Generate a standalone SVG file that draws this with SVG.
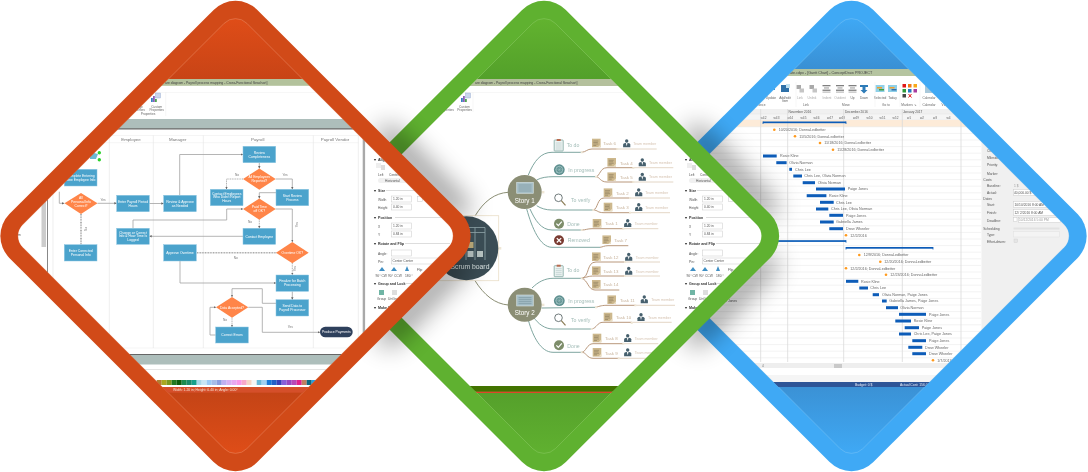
<svg xmlns="http://www.w3.org/2000/svg" width="1088" height="472" viewBox="0 0 1088 472">
<style>
text{font-family:"Liberation Sans",Arial,sans-serif}
.ft{font-size:3.4px;fill:#fff;text-anchor:middle}
.fl{font-size:3.2px;fill:#777;text-anchor:middle}
.fh{font-size:4.4px;fill:#777;text-anchor:middle}
.b{fill:#4BA3CC;stroke:#8CC6E2;stroke-width:.5}
.d{fill:#FF8548}
.c{fill:none;stroke:#A2A2A2;stroke-width:.8;marker-end:url(#ar)}
.cd{fill:none;stroke:#A2A2A2;stroke-width:.9;stroke-dasharray:1 .7;marker-end:url(#ar)}
.pt{font-size:3.3px;fill:#555}
.ph{font-size:3.6px;fill:#333;font-weight:bold}
.pb{fill:#fff;stroke:#C9C9C9;stroke-width:.5}
.br{fill:none;stroke:#7FA6A0;stroke-width:1}
.tk{fill:none;stroke:#B9987C;stroke-width:1}
.tl{fill:none;stroke:#DCCBB8;stroke-width:.8}
.lb{font-size:5.2px;fill:#A3BDB8}
.tt{font-size:4.4px;fill:#C7B29A}
.tm{font-size:3.6px;fill:#D6C4B2}
.nd{fill:#EFE7D6}
.g{fill:#0A5CB8}
.gd{fill:#FF9A1E}
.gt{font-size:3.7px;fill:#666}
.rl{stroke:#E6E6E6;stroke-width:.5}
.vl{stroke:#D9D9D9;stroke-width:.8}
.rb{font-size:3.2px;fill:#666;text-anchor:middle}
</style>
<defs>
<path id="o" d="M-226.1-21.9L-21.9-226.1A31 31 0 0 1 21.9-226.1L226.1-21.9A31 31 0 0 1 226.1 21.9L21.9 226.1A31 31 0 0 1-21.9 226.1L-226.1 21.9A31 31 0 0 1-226.1-21.9Z"/>
<path id="i" d="M-212.7-11.3L-11.3-212.7A16 16 0 0 1 11.3-212.7L212.7-11.3A16 16 0 0 1 212.7 11.3L11.3 212.7A16 16 0 0 1-11.3 212.7L-212.7 11.3A16 16 0 0 1-212.7-11.3Z"/>
<clipPath id="cO"><use href="#i" transform="translate(235.5 236)"/></clipPath>
<clipPath id="cG"><use href="#i" transform="translate(544 236)"/></clipPath>
<clipPath id="cB"><use href="#i" transform="translate(851.5 236)"/></clipPath>
<filter id="soft" x="-5%" y="-5%" width="110%" height="110%"><feGaussianBlur stdDeviation=".35"/></filter>
<filter id="sh" filterUnits="userSpaceOnUse" x="0" y="0" width="1088" height="472"><feGaussianBlur stdDeviation="13"/></filter>
<linearGradient id="gO" gradientUnits="userSpaceOnUse" x1="0" y1="-218" x2="0" y2="218"><stop offset="0" stop-color="#DF4D18"/><stop offset=".14" stop-color="#C84416"/><stop offset=".86" stop-color="#C44416"/><stop offset="1" stop-color="#DF4D18"/></linearGradient>
<linearGradient id="gG" gradientUnits="userSpaceOnUse" x1="0" y1="-218" x2="0" y2="218"><stop offset="0" stop-color="#62B32F"/><stop offset=".14" stop-color="#53A02A"/><stop offset=".86" stop-color="#55A02B"/><stop offset="1" stop-color="#60B130"/></linearGradient>
<linearGradient id="gB" gradientUnits="userSpaceOnUse" x1="0" y1="-218" x2="0" y2="218"><stop offset="0" stop-color="#3FA9F5"/><stop offset=".12" stop-color="#398FD3"/><stop offset=".85" stop-color="#3B92D6"/><stop offset="1" stop-color="#3FA9F5"/></linearGradient>
<marker id="ar" markerUnits="userSpaceOnUse" markerWidth="3" markerHeight="3" refX="2.4" refY="1.2" orient="auto"><path d="M0 0L2.4 1.2L0 2.4Z" fill="#666"/></marker>
<g id="ribbonIco"><rect x="-2.5" y="-4" width="5" height="5" fill="#C9D6EC" stroke="#8FA5CC" stroke-width=".4" transform="translate(3 -1)"/><rect x="-4" y="0" width="1.8" height="4" fill="#3A7FC4"/><rect x="-2" y="-2" width="1.8" height="6" fill="#8C5FB8"/><rect x="0" y="1" width="1.8" height="3" fill="#4FA64F"/></g>
<g id="props">
<rect x="376" y="163" width="5" height="5" fill="#eee"/>
<text class="ph" x="374" y="160.5">▾</text><text class="ph" x="378" y="160.5">Align</text><line x1="390" y1="159.5" x2="450" y2="159.5" stroke="#ddd"/>
<rect x="381" y="165" width="4" height="5" fill="#ddd"/>
<text class="pt" x="378" y="175.5">Left</text><text class="pt" x="389" y="175.5">Center</text>
<rect x="378" y="178" width="30" height="5" rx="2.5" fill="#F0F0F0"/><text class="pt" x="385" y="181.5" fill="#999">Horizontal</text>
<text class="ph" x="374" y="191.5">▾</text><text class="ph" x="378" y="191.5">Size</text><line x1="386" y1="190.5" x2="450" y2="190.5" stroke="#ddd"/>
<text class="pt" x="378" y="200.5">Width</text><rect class="pb" x="391.5" y="196" width="20" height="6"/><text class="pt" x="393" y="200.3">1.20 in</text>
<text class="pt" x="378" y="208.5">Height</text><rect class="pb" x="391.5" y="204" width="20" height="6"/><text class="pt" x="393" y="208.3">0.40 in</text>
<rect class="pb" x="417.5" y="196.5" width="5" height="5"/>
<text class="ph" x="374" y="218.5">▾</text><text class="ph" x="378" y="218.5">Position</text><line x1="395" y1="217.5" x2="450" y2="217.5" stroke="#ddd"/>
<text class="pt" x="378" y="227.5">X</text><rect class="pb" x="391.5" y="223" width="20" height="6"/><text class="pt" x="393" y="227.3">1.20 in</text>
<text class="pt" x="378" y="235.5">Y</text><rect class="pb" x="391.5" y="231" width="20" height="6"/><text class="pt" x="393" y="235.3">0.84 in</text>
<text class="ph" x="374" y="244.5">▾</text><text class="ph" x="378" y="244.5">Rotate and Flip</text><line x1="405" y1="243.5" x2="450" y2="243.5" stroke="#ddd"/>
<text class="pt" x="378" y="254.5">Angle:</text><rect class="pb" x="391.5" y="250" width="20" height="6"/>
<text class="pt" x="378" y="262.5">Pin:</text><rect class="pb" x="391.5" y="258" width="50" height="6"/><text class="pt" x="392.5" y="262.3">Center Center</text>
<path d="M379 271l3-4 3 4z" fill="#3F8FC4"/><path d="M391 271l3-4 3 4z" fill="#3F8FC4"/><path d="M405 271l2-5 2 5z" fill="#3F8FC4"/>
<text class="pt" x="375.5" y="276.5">90° CW</text><text class="pt" x="388" y="276.5">90° CCW</text><text class="pt" x="405" y="276.5">180 °</text><text class="pt" x="417" y="270.5">Flip</text>
<text class="ph" x="374" y="284.5">▾</text><text class="ph" x="378" y="284.5">Group and Lock</text><line x1="405" y1="283.5" x2="450" y2="283.5" stroke="#ddd"/>
<rect x="379" y="290" width="5" height="5" fill="#6FB5A5"/><rect x="392" y="290" width="5" height="5" fill="#ddd"/>
<text class="pt" x="377" y="299.5">Group</text><text class="pt" x="388" y="299.5">UnGroup</text>
<text class="ph" x="374" y="308.5">▾</text><text class="ph" x="378" y="308.5">Make S</text>
</g>
<g id="tk"><rect x="-4.3" y="-4.3" width="8.6" height="8.6" fill="#CDB88D"/><path d="M-3 -2H2M-3 -.5H1.5M-3 1H2M-3 2.5H0" stroke="#7B6C4E" stroke-width=".5"/><path d="M4.3 1.5L1.5 4.3H4.3Z" fill="#EADFC5"/></g>
<g id="pr"><circle cy="-2.3" r="1.7" fill="#47616E"/><path d="M-3.6 4V1.2Q-3.6-.3-1.3-.3H1.3Q3.6-.3 3.6 1.2V4Z" fill="#47616E"/><path d="M-.8-.3H.8L0 3Z" fill="#fff"/></g>
<g id="clip"><rect x="-4.5" y="-5" width="9" height="11" rx=".6" fill="#EEF4F3" stroke="#7FA6A0" stroke-width=".8"/><path d="M-3 -2H3M-3 0H3M-3 2H3M-3 4H3" stroke="#9DB9B5" stroke-width=".5"/><rect x="-2" y="-6" width="4" height="2" fill="#B86A50"/></g>
<g id="prog"><circle r="5.4" fill="#5D8F8F"/><circle r="3.4" fill="none" stroke="#A7C7C7" stroke-width=".8"/><path d="M-4 0H4M0-4V4M-3-3L3 3M3-3L-3 3" stroke="#A7C7C7" stroke-width=".4"/></g>
<g id="mag"><circle cx="-1.5" cy="-1.5" r="3.8" fill="#fff" stroke="#4E5A5C" stroke-width=".8"/><path d="M1.3 1.3L5.5 6" stroke="#8A7C55" stroke-width="1.2"/></g>
<g id="done"><circle r="5" fill="#7D8D6A"/><path d="M-2.6 0L-.7 2L2.8-2" fill="none" stroke="#fff" stroke-width="1.2"/></g>
<rect id="nsq" x="-1" y="-1" width="2" height="2" class="nd"/>
<g id="ribGray"><rect x="-3.5" y="-4" width="4.5" height="4" fill="#A9A9A9"/><rect x="-.5" y="-.5" width="4.5" height="4" fill="#C5C5C5"/></g>
<g id="ribMove"><rect x="-4" y="-4" width="8" height="1.3" fill="#808080"/><rect x="-2.5" y="-1.7" width="5" height="1.3" fill="#B0B0B0"/><rect x="-4" y=".6" width="8" height="1.3" fill="#808080"/><rect x="-4" y="2.6" width="8" height="1" fill="#B0B0B0"/></g>
</defs>
<rect width="1088" height="472" fill="#fff"/>

<g id="blue-panel">
<use href="#o" transform="translate(851.5 236)" fill="#3FA9F5"/>
<use href="#i" transform="translate(851.5 236)" fill="url(#gB)" stroke="#7CC4F6" stroke-width=".5"/>
<g clip-path="url(#cB)"><g filter="url(#soft)">
<rect x="620" y="69" width="470" height="318" fill="#fff"/>
<rect x="620" y="69" width="470" height="7" fill="#B5C4A0"/>
<text x="790" y="74" font-size="3.7" fill="#444">ate.cdpx - [Gantt Chart] - ConceptDraw PROJECT</text>
<g id="gantt-ribbon">
<rect x="768" y="84" width="7" height="6" fill="#3F8FD0"/><rect x="781" y="85" width="8" height="7" fill="#2F6FA8"/><rect x="786" y="84" width="4" height="4" fill="#BFE0F0"/>
<text class="rb" x="771" y="98.5">Update</text><text class="rb" x="785" y="98.5">Add/edit</text><text class="rb" x="785" y="102">Item</text>
<use href="#ribGray" x="800" y="89"/><use href="#ribGray" x="813" y="89"/>
<text class="rb" x="800" y="98.5" style="fill:#aaa">Link</text><text class="rb" x="812" y="98.5" style="fill:#aaa">Unlink</text><text class="rb" x="806" y="106">Link</text>
<use href="#ribMove" x="826.5" y="89"/><use href="#ribMove" x="840" y="89"/><use href="#ribMove" x="852.5" y="89"/>
<g transform="translate(864 89)"><rect x="-4" y="-4" width="8" height="2" fill="#2E7CB8"/><path d="M-1.5-2H1.5V1H3.5L0 4.5L-3.5 1H-1.5Z" fill="#2E7CB8"/></g>
<text class="rb" x="827" y="98.5" style="fill:#aaa">Indent</text><text class="rb" x="840" y="98.5" style="fill:#aaa">Outdent</text><text class="rb" x="852.5" y="98.5">Up</text><text class="rb" x="864" y="98.5">Down</text><text class="rb" x="846" y="106">Move</text>
<g transform="translate(880 89)"><rect x="-4.5" y="-4" width="9" height="7" fill="#8FD0E8"/><rect x="-3" y="-2" width="5" height="1.5" fill="#F0A030"/><rect x="-1" y="0" width="5" height="1.5" fill="#3FA040"/></g>
<g transform="translate(892.5 89)"><rect x="-4.5" y="-4" width="9" height="7" fill="#8FD0E8"/><rect x="-3" y="-2" width="5" height="1.5" fill="#F0A030"/><rect x="-1" y="0" width="5" height="1.5" fill="#2E6FB0"/></g>
<text class="rb" x="880" y="98.5">Selected</text><text class="rb" x="892.5" y="98.5">Today</text><text class="rb" x="886" y="106">Go to</text>
<rect x="902.5" y="84" width="3.5" height="3.5" fill="#E01818"/><rect x="908" y="84" width="3.5" height="3.5" fill="#F07818"/><rect x="913.5" y="84" width="3.5" height="3.5" fill="#F8A818"/>
<rect x="902.5" y="89" width="3.5" height="3.5" fill="#2F9A3A"/><rect x="908" y="89" width="3.5" height="3.5" fill="#2878C0"/><rect x="913.5" y="89" width="3.5" height="3.5" fill="#A83CA0"/>
<rect x="902.5" y="94" width="3.5" height="3.5" fill="#444"/><path d="M908.5 94l3 3.5m0-3.5l-3 3.5" stroke="#E01818"/>
<text class="rb" x="909" y="106">Markers ⇘</text>
<rect x="925" y="85" width="8" height="8" fill="#A8C8DA"/><text class="rb" x="929" y="98.5">Calendar</text><text class="rb" x="929" y="106">Calendar</text>
<path d="M763 82V107M796 82V107M875 82V107M900 82V107M920 82V107" stroke="#ececec" stroke-width=".5"/>
<text class="rb" x="762" y="106">ance</text><text class="rb" x="945" y="106">View</text>
</g>
<rect x="620" y="109" width="370" height="5" fill="#F0F0F0"/>
<rect x="620" y="114" width="370" height="6" fill="#F5F5F5"/>
<path d="M620 114H990M620 120H990" stroke="#ddd" stroke-width=".4"/>
<g font-size="3.2" fill="#555">
<text x="788.5" y="113">November 2016</text><text x="845" y="113">December 2016</text><text x="903" y="113">January 2017</text>
</g>
<g>
<text class="rb" x="763.5" y="118.5">w42</text><text class="rb" x="776.5" y="118.5">w43</text><text class="rb" x="790" y="118.5">w44</text><text class="rb" x="803.5" y="118.5">w45</text><text class="rb" x="816.5" y="118.5">w46</text><text class="rb" x="830" y="118.5">w47</text><text class="rb" x="842" y="118.5">w48</text><text class="rb" x="856" y="118.5">w49</text><text class="rb" x="869.5" y="118.5">w50</text><text class="rb" x="882.5" y="118.5">w51</text><text class="rb" x="895.5" y="118.5">w52</text><text class="rb" x="909" y="118.5">w1</text><text class="rb" x="922" y="118.5">w2</text><text class="rb" x="935" y="118.5">w3</text><text class="rb" x="948.5" y="118.5">w4</text>
</g>
<rect x="620" y="120" width="361" height="6.8" fill="#FDEBD8"/>
<path class="rl" d="M620 126.8H981M620 133.4H981M620 140H981M620 146.6H981M620 153.2H981M620 159.8H981M620 166.4H981M620 173H981M620 179.6H981M620 186.2H981M620 192.8H981M620 199.4H981M620 206H981M620 212.6H981M620 219.2H981M620 225.8H981M620 232.4H981M620 239H981M620 245.6H981M620 252.2H981M620 258.8H981M620 265.4H981M620 272H981M620 278.6H981M620 285.2H981M620 291.8H981M620 298.4H981M620 305H981M620 311.6H981M620 318.2H981M620 324.8H981M620 331.4H981M620 338H981M620 344.6H981M620 351.2H981M620 357.8H981"/>
<path class="vl" d="M760.7 109V362M787.7 109V362M843.7 109V362M902.3 109V362M961 109V362"/>
<rect x="620" y="363" width="361" height="5" fill="#EEE"/><rect x="834" y="364" width="8" height="4" fill="#C9C9C9"/><text x="762" y="367" font-size="3.2" fill="#777">4</text>
<rect x="620" y="375" width="470" height="7.5" fill="#F5F5F5"/>
<rect x="620" y="382" width="470" height="5" fill="#2F5597"/>
<text x="855" y="386" font-size="3.4" fill="#E8EEF8">Budget: 0 $</text><text x="900" y="386" font-size="3.4" fill="#E8EEF8">Actual Cost: 156,0</text>
<text x="737" y="302" font-size="3.4" fill="#555" text-anchor="end">s, Paige Jones</text>
<g id="gantt-bars">
<rect class="g" x="763" y="121.5" width="83" height="1.7"/><path d="M763 121.5V124M846 121.5V124" stroke="#0A5CB8" stroke-width=".8"/>
<circle class="gd" cx="774.3" cy="129.7" r="1.3"/><text class="gt" x="778.7" y="131">10/20/2016; DonnaLedbetter</text>
<circle class="gd" cx="795" cy="136.3" r="1.3"/><text class="gt" x="799.3" y="137.6">11/5/2016; DonnaLedbetter</text>
<circle class="gd" cx="820" cy="143" r="1.3"/><text class="gt" x="824.3" y="144.3">11/18/2016; DonnaLedbetter</text>
<circle class="gd" cx="833" cy="149.7" r="1.3"/><text class="gt" x="837.3" y="151">11/28/2016; DonnaLedbetter</text>
<rect class="g" x="763" y="154.5" width="13.7" height="3"/><text class="gt" x="780" y="157.3">Rosie Kline</text>
<rect class="g" x="776.3" y="161.2" width="10.3" height="3"/><text class="gt" x="789.3" y="164">Olivia Norman</text>
<rect class="g" x="789.3" y="167.8" width="2.7" height="3"/><text class="gt" x="795" y="170.6">Chris Lee</text>
<rect class="g" x="793.3" y="174.5" width="8.7" height="3"/><text class="gt" x="804.3" y="177.3">Chris Lee, Olivia Norman</text>
<rect class="g" x="802.7" y="181.2" width="12.3" height="3"/><text class="gt" x="817.7" y="184">Olivia Norman</text>
<rect class="g" x="816" y="187.5" width="29" height="3"/><text class="gt" x="847.7" y="190.3">Paige Jones</text>
<rect class="g" x="806.7" y="194.2" width="19.7" height="3"/><text class="gt" x="829" y="197">Rosie Kline</text>
<rect class="g" x="820" y="200.8" width="13.7" height="3"/><text class="gt" x="836" y="203.6">Chris Lee</text>
<rect class="g" x="816" y="207.5" width="12.3" height="3"/><text class="gt" x="831" y="210.3">Chris Lee, Olivia Norman</text>
<rect class="g" x="829.3" y="213.8" width="13.7" height="3"/><text class="gt" x="846" y="216.6">Paige Jones</text>
<rect class="g" x="820" y="220.5" width="13.7" height="3"/><text class="gt" x="836" y="223.3">Gabriella James</text>
<rect class="g" x="829.3" y="227.2" width="13.7" height="3"/><text class="gt" x="846" y="230">Drew Wheeler</text>
<circle class="gd" cx="846" cy="235.3" r="1.3"/><text class="gt" x="850.3" y="236.6">12/2/2016</text>
<rect class="g" x="760" y="240.2" width="86" height="1.7"/><path d="M846 240.2V242.7" stroke="#0A5CB8" stroke-width=".8"/>
<rect class="g" x="846" y="247" width="87" height="1.7"/><path d="M846 247V249.5M933 247V249.5" stroke="#0A5CB8" stroke-width=".8"/>
<circle class="gd" cx="859.3" cy="255" r="1.3"/><text class="gt" x="863.7" y="256.3">12/9/2016; DonnaLedbetter</text>
<circle class="gd" cx="880.3" cy="261.7" r="1.3"/><text class="gt" x="884.3" y="263">12/20/2016; DonnaLedbetter</text>
<circle class="gd" cx="846" cy="268.3" r="1.3"/><text class="gt" x="850.3" y="269.6">12/2/2016; DonnaLedbetter</text>
<circle class="gd" cx="886" cy="274.7" r="1.3"/><text class="gt" x="890.3" y="276">12/23/2016; DonnaLedbetter</text>
<rect class="g" x="846" y="279.8" width="12.3" height="3"/><text class="gt" x="861" y="282.6">Rosie Kline</text>
<rect class="g" x="859.3" y="286.5" width="8.7" height="3"/><text class="gt" x="870.3" y="289.3">Chris Lee</text>
<rect class="g" x="872.7" y="293.2" width="6.3" height="3"/><text class="gt" x="882" y="296">Olivia Norman, Paige Jones</text>
<rect class="g" x="882" y="299.5" width="4.7" height="3"/><text class="gt" x="889.3" y="302.3">Gabriella James, Paige Jones</text>
<rect class="g" x="886" y="306.2" width="12" height="3"/><text class="gt" x="900.3" y="309">Olivia Norman</text>
<rect class="g" x="899" y="312.8" width="27" height="3"/><text class="gt" x="929" y="315.6">Paige Jones</text>
<rect class="g" x="895.3" y="319.5" width="15.7" height="3"/><text class="gt" x="913.7" y="322.3">Rosie Kline</text>
<rect class="g" x="904.7" y="326.2" width="14.3" height="3"/><text class="gt" x="921.7" y="329">Paige Jones</text>
<rect class="g" x="899" y="332.5" width="12" height="3"/><text class="gt" x="913.7" y="335.3">Chris Lee, Paige Jones</text>
<rect class="g" x="912.3" y="339.2" width="13.7" height="3"/><text class="gt" x="929" y="342">Paige Jones</text>
<rect class="g" x="908.3" y="345.8" width="14" height="3"/><text class="gt" x="925" y="348.6">Drew Wheeler</text>
<rect class="g" x="912.3" y="352.2" width="13.7" height="3"/><text class="gt" x="929" y="355">Drew Wheeler</text>
<circle class="gd" cx="933" cy="360.3" r="1.3"/><text class="gt" x="937.3" y="361.6">1/7/2017</text>
</g>
<g id="gantt-properties">
<rect x="981.5" y="127" width="108" height="250" fill="#F0F0F0"/>
<text class="pt" x="987" y="151.5">Crit</text>
<text class="pt" x="987" y="159">Milestone:</text><text class="pt" x="987" y="166">Priority:</text><text class="pt" x="987" y="174.5">Marker:</text>
<text class="pt" x="983.3" y="180.5">Costs</text>
<text class="pt" x="987" y="186.5">Baseline:</text><text class="pt" x="1014" y="186.5" style="fill:#999">1 $</text>
<text class="pt" x="987" y="194">Actual:</text><rect class="pb" x="1013.5" y="189.5" width="40" height="6"/><text class="pt" x="1014" y="194">40,000.00 $</text>
<text class="pt" x="983.3" y="199.5">Dates</text>
<text class="pt" x="987" y="206">Start:</text><rect class="pb" x="1013.5" y="201.5" width="60" height="6"/><text class="pt" x="1014.5" y="206">10/10/2016  8:00 AM</text>
<text class="pt" x="987" y="213.5">Finish:</text><rect class="pb" x="1013.5" y="209.5" width="60" height="6"/><text class="pt" x="1014.5" y="214">12/ 2/2016  8:00 AM</text>
<text class="pt" x="987" y="221.5">Deadline:</text><rect class="pb" x="1013.5" y="217.5" width="3.5" height="4"/><rect class="pb" x="1018.5" y="217.5" width="42" height="5"/><text class="pt" x="1019" y="221.3" style="fill:#999">10/12/2016  5:00 PM</text>
<text class="pt" x="983.3" y="229.5">Scheduling</text><rect x="1013.5" y="227.5" width="46" height="2" fill="#E2E2E2"/>
<text class="pt" x="987" y="235.5">Type:</text><rect x="1013.5" y="231.5" width="46" height="5.5" fill="#F4F4F4" stroke="#DDD" stroke-width=".4"/>
<text class="pt" x="987" y="242.5">Effort-driven:</text><rect x="1014" y="239" width="3.5" height="3.5" fill="#E5E5E5" stroke="#CCC" stroke-width=".4"/>
</g>
</g></g>
</g>

<g id="green-shadow" filter="url(#sh)" opacity=".42"><path d="M690 130L772 214M772 258L690 342" stroke="#000" stroke-width="22" fill="none"/></g>

<g id="green-panel">
<use href="#o" transform="translate(544 236)" fill="#5FB130"/>
<use href="#i" transform="translate(544 236)" fill="url(#gG)" stroke="#8CCB66" stroke-width=".5"/>
<g clip-path="url(#cG)"><g filter="url(#soft)">
<rect x="310" y="79" width="470" height="307" fill="#fff"/>
<rect x="310" y="79" width="470" height="7" fill="#B4C09C"/>
<text x="475" y="84" font-size="3.4" fill="#444">are diagram - Payroll process mapping - Cross-Functional flowchart]</text>
<path d="M310 92.5H780" stroke="#EEE" stroke-width=".5"/>
<use href="#ribbonIco" x="465" y="98"/>
<text class="rb" x="464.5" y="107.5">Custom</text><text class="rb" x="464.5" y="110.5">Properties</text><text class="rb" x="449" y="110.5">perties</text>
<path d="M473 92V112" stroke="#eee" stroke-width=".5"/>
<use href="#props" x="311" y="0"/>
<rect x="310" y="386" width="470" height="5.7" fill="#437300"/>
<rect x="310" y="391.7" width="470" height="1.3" fill="#E0452A"/>
<g id="mind-connectors">
<path d="M475 216C484 201 495 193 508.3 192.3" fill="none" stroke="#8B8E74"/>
<path d="M475 280.7C484 295 495 304 508.3 305" fill="none" stroke="#8B8E74"/>
<path class="br" d="M528.3 175C534 161 541 152.3 552 152.3H581.7"/>
<path class="br" d="M536.7 180C541 177.5 547 176.7 553 176.7H596"/>
<path class="br" d="M536.7 205.7C541 208.5 546 210 552 210H593.3"/>
<path class="br" d="M530 209C535 220 541 230 552 230H581.7"/>
<path class="br" d="M526.7 209C532 228 540 247.3 552 247.3H600"/>
<path class="br" d="M532 288C538 282 545 278.3 553 278.3H581.7"/>
<path class="br" d="M541.7 308L596 307.3"/>
<path class="br" d="M533.3 316.7C538 324 545 329 553 329H591.7"/>
<path class="br" d="M528.3 320C533 337 541 352.3 553 352.3H581.7"/>
<path class="tk" d="M581.7 152.3C586 152 587 149 592 149H617"/><path class="tl" d="M617 149H656.7"/>
<path class="tk" d="M596 176.7C600 176 600 167.7 607 167.7H633"/><path class="tl" d="M633 167.7H673.3"/>
<path class="tk" d="M596 176.7C600 177 600 182 607 182H633"/><path class="tl" d="M633 182H673.3"/>
<path class="tk" d="M593.3 210C598 209 597 198 604 198H630"/><path class="tl" d="M630 198H670"/>
<path class="tk" d="M593.3 210C598 210 597 212.7 604 212.7H630"/><path class="tl" d="M630 212.7H670"/>
<path class="tk" d="M581.7 230C586 230 587 228.7 592 228.7H623"/><path class="tl" d="M623 228.7H658.3"/>
<path class="tk" d="M600 247.3C603 247 604 245.7 608 245.7H628.3"/>
<path class="tk" d="M581.7 278.3C590 277 586 262 596 262H625"/><path class="tl" d="M625 262H660"/>
<path class="tk" d="M581.7 278.3C588 277 588 276 595 276H625"/><path class="tl" d="M625 276H660"/>
<path class="tk" d="M581.7 278.3C588 280 588 290 595 290H619.3"/>
<path class="tk" d="M596 307.3C600 306 602 305.3 608 305.3H635"/><path class="tl" d="M635 305.3H675"/>
<path class="tk" d="M591.7 329C597 328 597 322.3 603 322.3H632"/><path class="tl" d="M632 322.3H671.7"/>
<path class="tk" d="M581.7 352.3C586 352 587 343.7 593 343.7H623"/><path class="tl" d="M623 343.7H658.3"/>
<path class="tk" d="M581.7 352.3C586 352 587 358.3 593 358.3H619"/><path class="tl" d="M619 358.3H658"/>
<use href="#nsq" x="581.7" y="152.3"/><use href="#nsq" x="596" y="176.7"/><use href="#nsq" x="593.3" y="210"/><use href="#nsq" x="581.7" y="230"/><use href="#nsq" x="581.7" y="278.3"/><use href="#nsq" x="596" y="307.3"/><use href="#nsq" x="591.7" y="329"/><use href="#nsq" x="581.7" y="352.3"/>
<use href="#nsq" x="617.3" y="149"/><use href="#nsq" x="633.3" y="168"/><use href="#nsq" x="633.3" y="182"/><use href="#nsq" x="630" y="198"/><use href="#nsq" x="630" y="212.7"/><use href="#nsq" x="623.3" y="228.7"/><use href="#nsq" x="625" y="262"/><use href="#nsq" x="625" y="276"/><use href="#nsq" x="635.3" y="305.3"/><use href="#nsq" x="631.7" y="323"/><use href="#nsq" x="623.3" y="343.7"/><use href="#nsq" x="618.7" y="358.3"/>
</g>
<g id="scrum-board">
<rect x="434" y="215.7" width="64.7" height="65" fill="none" stroke="#EADFC8" stroke-width=".8"/>
<rect x="498.7" y="247" width="2.6" height="2.6" fill="#EFE7D6"/>
<circle cx="466.3" cy="248.3" r="32" fill="#3B4E55"/>
<path d="M457 227.5H485V260M466 227.5V260M475 227.5V260M457 232.5H485" fill="none" stroke="#8FA4AA" stroke-width=".8"/>
<rect x="467.5" y="242" width="6" height="6" fill="#B9A878"/><rect x="467.5" y="251" width="6" height="6" fill="#B8C4C2"/><rect x="477" y="251" width="6" height="6" fill="#B8C4C2"/>
<text x="450.5" y="269.3" font-size="6.8" fill="#DCE4E4">Scrum board</text>
</g>
<g id="story-1"><circle cx="524.7" cy="192" r="17" fill="#8B8E74"/><rect x="516.7" y="182.3" width="16.6" height="11" fill="#A8C0C8" stroke="#D6E2E4" stroke-width=".6"/><path d="M518.5 185H531.5M518.5 187H531.5M518.5 189H531.5M518.5 191H531.5" stroke="#6F8B96" stroke-width=".6"/><text x="524.7" y="202.5" font-size="6.3" fill="#fff" text-anchor="middle">Story 1</text><rect x="542" y="191" width="2.4" height="2.4" fill="#EFE7D6"/></g>
<g id="story-2"><circle cx="524.7" cy="304.7" r="17" fill="#8B8E74"/><rect x="516.7" y="295" width="16.6" height="11" fill="#A8C0C8" stroke="#D6E2E4" stroke-width=".6"/><path d="M518.5 297.7H531.5M518.5 299.7H531.5M518.5 301.7H531.5M518.5 303.7H531.5" stroke="#6F8B96" stroke-width=".6"/><text x="524.7" y="315.2" font-size="6.3" fill="#fff" text-anchor="middle">Story 2</text><rect x="542" y="303.7" width="2.4" height="2.4" fill="#EFE7D6"/></g>
<g id="state-labels">
<use href="#clip" x="558.7" y="145"/><text class="lb" x="566.7" y="146.8">To do</text>
<use href="#prog" x="559.3" y="169.7"/><text class="lb" x="568.3" y="171.8">In progress</text>
<use href="#mag" x="560" y="199.3"/><text class="lb" x="571" y="202.3">To verify</text>
<use href="#done" x="559" y="223.7"/><text class="lb" x="567.3" y="225.8">Done</text>
<g transform="translate(559 240.3)"><circle r="5" fill="#7A3B30"/><path d="M-2.2-2.2L2.2 2.2M2.2-2.2L-2.2 2.2" stroke="#fff" stroke-width="1.3"/></g><text class="lb" x="567.7" y="242.4">Removed</text>
<use href="#clip" x="558.7" y="270.7"/><text class="lb" x="566.7" y="272.3">To do</text>
<use href="#prog" x="559.3" y="300.7"/><text class="lb" x="568.3" y="302.7">In progress</text>
<use href="#mag" x="560" y="319.3"/><text class="lb" x="571" y="322">To verify</text>
<use href="#done" x="559" y="345.3"/><text class="lb" x="567.3" y="347.7">Done</text>
</g>
<g id="tasks">
<use href="#tk" x="596.3" y="143"/><text class="tt" x="603.3" y="145.3">Task 6</text><use href="#pr" x="626.7" y="143.3"/><text class="tm" x="633.3" y="144.8">Team member</text>
<use href="#tk" x="611.7" y="162.3"/><text class="tt" x="620" y="164.5">Task 4</text><use href="#pr" x="642.3" y="162.3"/><text class="tm" x="649" y="163.8">Team member</text>
<use href="#tk" x="611.7" y="176.7"/><text class="tt" x="620" y="178.8">Task 5</text><use href="#pr" x="642.3" y="176.7"/><text class="tm" x="649" y="178.2">Team member</text>
<use href="#tk" x="608" y="192.7"/><text class="tt" x="616" y="194.8">Task 2</text><use href="#pr" x="638.7" y="192.3"/><text class="tm" x="645.3" y="194.2">Team member</text>
<use href="#tk" x="608" y="207"/><text class="tt" x="616" y="209.2">Task 3</text><use href="#pr" x="638.7" y="207"/><text class="tm" x="645.3" y="208.5">Team member</text>
<use href="#tk" x="597" y="223.3"/><text class="tt" x="605" y="225.2">Task 1</text><use href="#pr" x="627.7" y="223"/><text class="tm" x="634.7" y="224.6">Team member</text>
<use href="#tk" x="606.7" y="239.7"/><text class="tt" x="614.3" y="241.8">Task 7</text>
<use href="#tk" x="596.3" y="256.7"/><text class="tt" x="603.3" y="258.5">Task 12</text><use href="#pr" x="628.7" y="256.7"/><text class="tm" x="635.7" y="258.5">Team member</text>
<use href="#tk" x="596.3" y="270.7"/><text class="tt" x="603.3" y="272.5">Task 13</text><use href="#pr" x="628.7" y="270.7"/><text class="tm" x="635.7" y="272.5">Team member</text>
<use href="#tk" x="596.3" y="284.3"/><text class="tt" x="603.3" y="286.2">Task 14</text>
<use href="#tk" x="611.7" y="299.7"/><text class="tt" x="620" y="301.5">Task 11</text><use href="#pr" x="644.3" y="299.3"/><text class="tm" x="651.3" y="301.2">Team member</text>
<use href="#tk" x="608" y="317"/><text class="tt" x="616" y="319.2">Task 10</text><use href="#pr" x="641" y="317"/><text class="tm" x="648" y="318.5">Team member</text>
<use href="#tk" x="597" y="338"/><text class="tt" x="605" y="339.8">Task 8</text><use href="#pr" x="627.7" y="338"/><text class="tm" x="634.7" y="339.5">Team member</text>
<use href="#tk" x="597" y="352.3"/><text class="tt" x="605" y="354.5">Task 9</text><use href="#pr" x="627.7" y="352.3"/><text class="tm" x="634.7" y="353.8">Team member</text>
</g>
</g></g>
</g>

<g id="orange-shadow" filter="url(#sh)" opacity=".42"><path d="M382 130L464 214M464 258L382 342" stroke="#000" stroke-width="22" fill="none"/></g>

<g id="orange-panel">
<use href="#o" transform="translate(235.5 236)" fill="#D14A18"/>
<use href="#i" transform="translate(235.5 236)" fill="url(#gO)" stroke="#EA8E68" stroke-width=".5"/>
<g clip-path="url(#cO)"><g filter="url(#soft)">
<rect x="0" y="79" width="472" height="308" fill="#fff"/>
<rect x="0" y="79" width="472" height="6.8" fill="#B3C29C"/>
<text x="165" y="84" font-size="3.4" fill="#444">are diagram - Payroll process mapping - Cross-Functional flowchart]</text>
<path d="M0 92.5H472" stroke="#EEE" stroke-width=".5"/>
<use href="#ribbonIco" x="155" y="98"/>
<text class="rb" x="156.7" y="107.5">Custom</text><text class="rb" x="156.7" y="110.5">Properties</text><text class="rb" x="148" y="114.5">Properties</text><text class="rb" x="141" y="107.5">ge</text><text class="rb" x="140" y="110.5">perties</text>
<path d="M165.7 92V116" stroke="#eee" stroke-width=".5"/>
<rect x="0" y="119" width="472" height="10" fill="#ADBEBB"/><rect x="0" y="128.3" width="362" height="1.2" fill="#666"/>
<rect x="41.5" y="160" width="4.5" height="87" fill="#CCC"/><rect x="47" y="130" width="1" height="225" fill="#888"/>
<text x="18" y="235.5" font-size="3.4" fill="#555">m</text>
<rect x="362.7" y="129" width="2.4" height="222" fill="#A9A9A9"/>
<path d="M53 135.5H358.5M53 142.7H358.5M53 348H358.5" stroke="#EEE" stroke-width=".6"/>
<path d="M53 135.5V348M109.3 135.5V348M153.3 135.5V348M203.3 135.5V348M313.3 135.5V348M358.3 135.5V348" stroke="#E2E2E2" stroke-width=".6"/>
<text class="fh" x="131" y="140.8">Employee</text><text class="fh" x="177.7" y="140.8">Manager</text><text class="fh" x="257.7" y="140.8">Payroll</text><text class="fh" x="335" y="140.8">Payroll Vendor</text>
<g id="flow-connectors">
<path class="c" d="M59.3 191.7V203.3H64.3"/>
<path class="c" d="M97.5 203.3H116.7"/>
<path class="c" d="M149.3 203.5H163.7"/>
<path class="c" d="M179.7 195.3V154.5H243"/>
<path class="c" d="M259.3 162.7V168.5"/>
<path class="cd" d="M243 179H226.5V189.3"/>
<path class="c" d="M275.7 179H292.3V189.3"/>
<path class="c" d="M276 192.7H259.3V198.5"/>
<path class="c" d="M133 228.3V220H226.7V209H243"/>
<path class="cd" d="M259.3 219.5V228.3"/>
<path class="c" d="M275.5 209H292.3V242"/>
<path class="c" d="M243 236.3H149.3"/>
<path d="M276.3 252.7H196.3" fill="none" stroke="#A2A2A2" stroke-width="1.6" stroke-dasharray=".9 .7"/>
<path class="cd" d="M292.3 263V275"/>
<path class="c" d="M180 261V283H276"/>
<path class="c" d="M292.3 291.3V299.7"/>
<path class="c" d="M276 303.3H262.3V288.7H232V297"/>
<path class="c" d="M248.3 307.3H262.3V332.3H320"/>
<path class="cd" d="M232 317.7V327"/>
<path class="c" d="M215.7 335H210V307.3H216"/>
<path d="M81 214V244.7" fill="none" stroke="#A2A2A2" stroke-width="1.6" stroke-dasharray=".9 .7"/>
</g>
<text class="fl" x="103" y="201">Yes</text><text class="fl" x="237" y="175.7">No</text><text class="fl" x="285" y="175.7">Yes</text><text class="fl" x="250" y="223">No</text><text class="fl" x="235.7" y="259">No</text><text class="fl" x="290.3" y="327.7">Yes</text><text class="fl" x="225" y="321.3">No</text>
<text class="fl" transform="translate(298 224.7) rotate(-90)">Yes</text><text class="fl" transform="translate(296 268.7) rotate(-90)">Yes</text><text class="fl" transform="translate(86.5 229) rotate(-90)">No</text>
<g id="n-start"><path d="M90 152L98 154L96 159H90Z" fill="#6CBAD4"/><circle cx="99.3" cy="152.7" r="1.7" fill="#2BD12B"/><circle cx="99.3" cy="159.7" r="1.7" fill="#2BD12B"/></g>
<g id="n-complete"><rect class="b" x="64.3" y="169.3" width="32.7" height="16.7"/><text class="ft" x="80.7" y="176.5">Complete Entering</text><text class="ft" x="80.7" y="180.5">New Employee Info</text></g>
<g id="n-personal"><path class="d" d="M64.5 203.3L81 193L97.5 203.3L81 214Z"/><text class="ft" x="81" y="199">All</text><text class="ft" x="81" y="203">Personal Info</text><text class="ft" x="81" y="207">Correct?</text></g>
<g id="n-corrected"><rect class="b" x="64.3" y="244.7" width="32.7" height="16.3"/><text class="ft" x="80.7" y="252">Enter Corrected</text><text class="ft" x="80.7" y="256">Personal Info</text></g>
<g id="n-hours"><rect class="b" x="116.7" y="195.3" width="32.6" height="16.4"/><text class="ft" x="133" y="203">Enter Payroll Period</text><text class="ft" x="133" y="207">Hours</text></g>
<g id="n-approve"><rect class="b" x="163.7" y="195.3" width="32.6" height="16.4"/><text class="ft" x="180" y="203">Review &amp; Approve</text><text class="ft" x="180" y="207">as Needed</text></g>
<g id="n-change"><rect class="b" x="116.7" y="228.3" width="32.6" height="16"/><text class="ft" x="133" y="233.5">Change or Correct</text><text class="ft" x="133" y="237.3">Info &amp; How Time Is</text><text class="ft" x="133" y="241">Logged</text></g>
<g id="n-overtime"><rect class="b" x="163.7" y="244.7" width="32.6" height="16.3"/><text class="ft" x="180" y="254">Approve Overtime</text></g>
<g id="n-review"><rect class="b" x="243" y="146.3" width="32.7" height="16.4"/><text class="ft" x="259.3" y="153.5">Review</text><text class="ft" x="259.3" y="157.5">Completeness</text></g>
<g id="n-reported"><path class="d" d="M243 179L259.3 168.5L275.7 179L259.3 189.7Z"/><text class="ft" x="259.3" y="178.2">All Employees</text><text class="ft" x="259.3" y="182">Reported?</text></g>
<g id="n-didnt"><rect class="b" x="210.3" y="189.3" width="32.7" height="16.4"/><text class="ft" x="226.7" y="194.5">Contact Employees</text><text class="ft" x="226.7" y="198.3">Who Didn't Report</text><text class="ft" x="226.7" y="202.2">Hours</text></g>
<g id="n-start-review"><rect class="b" x="276" y="189.3" width="32.7" height="16.4"/><text class="ft" x="292.3" y="196.5">Start Review</text><text class="ft" x="292.3" y="200.5">Process</text></g>
<g id="n-paid"><path class="d" d="M243 209L259.3 198.5L275.7 209L259.3 219.7Z"/><text class="ft" x="259.3" y="208">Paid Time</text><text class="ft" x="259.3" y="212">off OK?</text></g>
<g id="n-contact"><rect class="b" x="243" y="228.3" width="32.7" height="16"/><text class="ft" x="259.3" y="237.5">Contact Employee</text></g>
<g id="n-otok"><path class="d" d="M276 252.7L292.3 242L308.7 252.7L292.3 263.3Z"/><text class="ft" x="292.3" y="254">Overtime OK?</text></g>
<g id="n-batch"><rect class="b" x="276" y="275" width="32.7" height="16.3"/><text class="ft" x="292.3" y="282.3">Finalize for Batch</text><text class="ft" x="292.3" y="286.3">Processing</text></g>
<g id="n-send"><rect class="b" x="276" y="299.7" width="32.7" height="16.3"/><text class="ft" x="292.3" y="307">Send Data to</text><text class="ft" x="292.3" y="311">Payroll Processor</text></g>
<g id="n-accepted"><path class="d" d="M216 307.3L232 297L248.3 307.3L232 317.7Z"/><text class="ft" x="232" y="308.5">Data Accepted?</text></g>
<g id="n-errors"><rect class="b" x="215.7" y="327" width="32.6" height="16"/><text class="ft" x="232" y="336">Correct Errors</text></g>
<g id="n-payments"><rect x="320" y="326.7" width="32.7" height="10.6" rx="5.3" fill="#2E3F5C"/><text class="ft" x="336.3" y="333.2">Produce Payments</text></g>
<rect x="0" y="354" width="472" height="1" fill="#666"/><rect x="0" y="355" width="472" height="9.5" fill="#ADBEBB"/>
<rect x="0" y="369" width="472" height="1" fill="#E4E4E4"/>
<g id="palette">
<rect x="156.7" y="380" width="5" height="5" fill="#B08030"/><rect x="161.7" y="380" width="5" height="5" fill="#A8A820"/><rect x="166.7" y="380" width="5" height="5" fill="#7A9A20"/><rect x="171.7" y="380" width="5" height="5" fill="#207A20"/><rect x="176.7" y="380" width="5" height="5" fill="#0E5F0E"/><rect x="181.7" y="380" width="5" height="5" fill="#1E8B50"/><rect x="186.7" y="380" width="5" height="5" fill="#1F8B6A"/><rect x="191.7" y="380" width="5" height="5" fill="#17A08B"/><rect x="196.7" y="380" width="5" height="5" fill="#A8D8E8"/><rect x="201.7" y="380" width="5" height="5" fill="#C8E6F5"/><rect x="206.7" y="380" width="5" height="5" fill="#9CCBF5"/><rect x="211.7" y="380" width="5" height="5" fill="#A5BCE8"/><rect x="216.7" y="380" width="5" height="5" fill="#8C9FE0"/><rect x="221.7" y="380" width="5" height="5" fill="#C0B0F0"/><rect x="226.7" y="380" width="5" height="5" fill="#D8B0F0"/><rect x="231.7" y="380" width="5" height="5" fill="#E8A8F0"/><rect x="236.7" y="380" width="5" height="5" fill="#F898E8"/><rect x="241.7" y="380" width="5" height="5" fill="#F8A8C8"/><rect x="246.7" y="380" width="5" height="5" fill="#F5D5C5"/><rect x="251.7" y="380" width="5" height="5" fill="#F5F5F5"/><rect x="256.7" y="380" width="5" height="5" fill="#68B8D8"/><rect x="261.7" y="380" width="5" height="5" fill="#A0D0F0"/><rect x="266.7" y="380" width="5" height="5" fill="#1878D8"/><rect x="271.7" y="380" width="5" height="5" fill="#2060C8"/><rect x="276.7" y="380" width="5" height="5" fill="#3840B8"/><rect x="281.7" y="380" width="5" height="5" fill="#8860D8"/><rect x="286.7" y="380" width="5" height="5" fill="#9848C0"/><rect x="291.7" y="380" width="5" height="5" fill="#B848B8"/><rect x="296.7" y="380" width="5" height="5" fill="#E02090"/><rect x="301.7" y="380" width="5" height="5" fill="#C08060"/><rect x="306.7" y="380" width="5" height="5" fill="#106880"/><rect x="311.7" y="380" width="5" height="5" fill="#20A0E8"/><rect x="316.7" y="380" width="5" height="5" fill="#1850A8"/><rect x="321.7" y="380" width="5" height="5" fill="#101880"/><rect x="326.7" y="380" width="5" height="5" fill="#200898"/><rect x="331.7" y="380" width="5" height="5" fill="#6020B0"/>
</g>
<rect x="0" y="387" width="472" height="5.7" fill="#D5502A"/>
<text x="173" y="391.2" font-size="3.4" fill="#F5DDD0">Width: 1.20 in; Height: 0.40 in; Angle: 0.00°</text>
<use href="#props"/>
</g></g>
</g>
</svg>
